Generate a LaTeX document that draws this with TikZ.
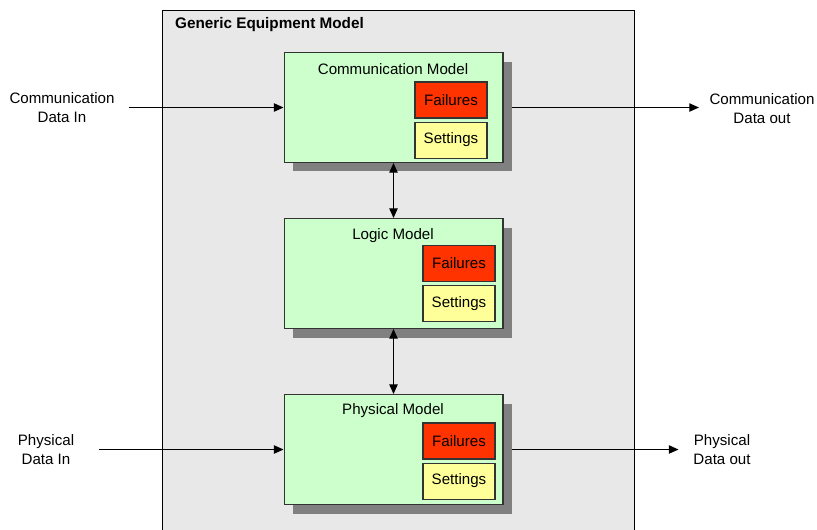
\documentclass[tikz,border=0pt]{standalone}
\usepackage{fontspec}
\setmainfont{Liberation Sans}
\usetikzlibrary{arrows.meta}
\usetikzlibrary{positioning}
\usetikzlibrary{shadows}
\usetikzlibrary{backgrounds}

\definecolor{modelgreen}{HTML}{CCFFCC}
\definecolor{failred}{HTML}{FF3300}
\definecolor{setyellow}{HTML}{FFFF99}
\definecolor{outergrey}{HTML}{E8E8E8}
\definecolor{shadowgrey}{HTML}{808080}

\tikzset{
  txt/.style={font=\fontsize{8.6}{10.8}\selectfont},
  model/.style={draw=black!80, line width=0.6pt, fill=modelgreen,
      minimum width=4.38cm, minimum height=2.2cm,
      drop shadow={shadow xshift=0.18cm, shadow yshift=-0.18cm,
                   fill=shadowgrey, opacity=1}},
  failbox/.style={txt, draw=black!80, line width=0.6pt, fill=failred,
      minimum width=1.44cm, minimum height=0.72cm, inner sep=0pt},
  setbox/.style={failbox, fill=setyellow},
  io/.style={txt, align=center},
  flow/.style={line width=0.6pt, -{Triangle[length=5.5pt,width=4.8pt]}},
  both/.style={line width=0.6pt,
      {Triangle[length=5.5pt,width=4.8pt]}-{Triangle[length=5.5pt,width=4.8pt]}},
}

\begin{document}
\begin{tikzpicture}[x=0.02cm,y=-0.02cm]
  \useasboundingbox (0,0) rectangle (817,529);

  % outer container
  \begin{scope}[on background layer]
    \node[draw, line width=0.6pt, fill=outergrey, anchor=north west,
          minimum width=9.44cm, minimum height=10.8cm] (gem) at (162,10) {};
    \node[anchor=west, font=\fontsize{8.7}{10}\selectfont\bfseries] (gemt) at (169,24.5)
        {Generic Equipment Model};
  \end{scope}

  % the three models
  \node[model] (comm)  at (393.5,107.5) {};
  \node[model] (logic) at (393.5,273.5) {};
  \node[model] (phys)  at (393.5,449.5) {};

  \node[txt] (commt)  at (393,69)  {Communication Model};
  \node[txt] (logict) at (393,236) {Logic Model};
  \node[txt] (physt)  at (393,411) {Physical Model};

  \node[failbox] (commf) at (451,100) {Failures};
  \node[setbox, below=0.06cm of commf] (comms) {Settings};
  \node[failbox] (logicf) at (459,263.5) {Failures};
  \node[setbox, below=0.06cm of logicf] (logics) {Settings};
  \node[failbox] (physf) at (459,441) {Failures};
  \node[setbox, below=0.06cm of physf] (physs) {Settings};

  % data in / out
  \node[io] (cin)  at (62,107.5)  {Communication\\Data In};
  \node[io] (cout) at (762,108.5) {Communication\\Data out};
  \node[io] (pin)  at (46,449.5)  {Physical\\Data In};
  \node[io] (pout) at (722,449.5) {Physical\\Data out};

  \draw[both] (comm) -- (logic);
  \draw[both] (logic) -- (phys);

  \begin{scope}[on background layer]
    \draw[flow, shorten <=4.5pt] (cin) -- (comm);
    \draw[flow, shorten >=2.5pt] (comm) -- (comm.east -| cout.west);
    \draw[flow, shorten <=10.8pt] (pin) -- (phys);
    \draw[flow, shorten >=5pt] (phys) -- (pout);
  \end{scope}
\end{tikzpicture}
\end{document}
